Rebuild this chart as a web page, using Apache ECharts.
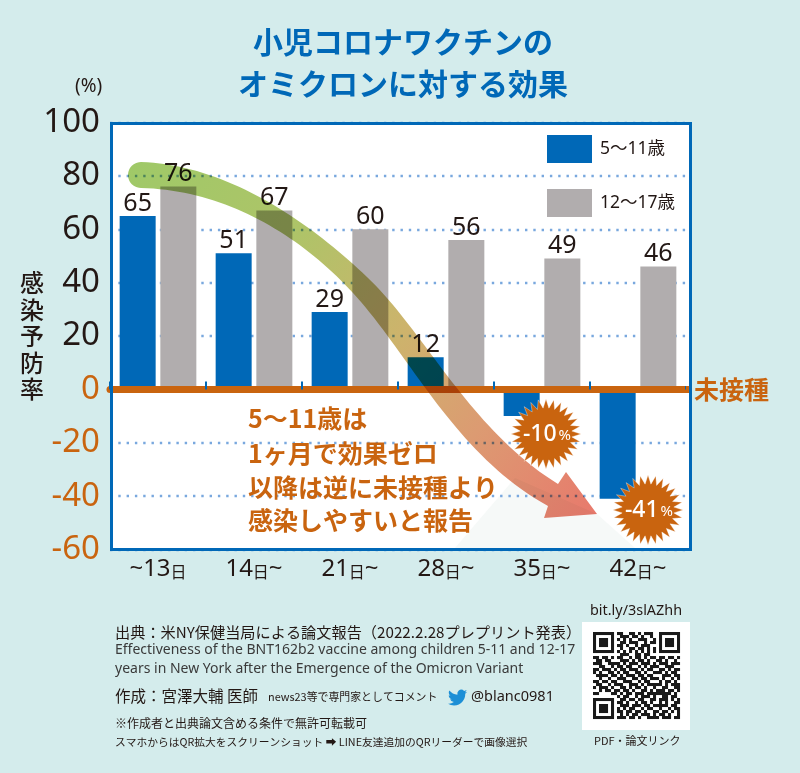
<!DOCTYPE html>
<html><head><meta charset="utf-8">
<style>html,body{margin:0;padding:0;background:#d4ecec}#c{width:800px;height:773px}</style>
<script src="https://cdn.jsdelivr.net/npm/echarts@6/dist/echarts.min.js"></script>
</head><body><div id="c"></div>
<script>
const categories = ['~13日','14日~','21日~','28日~','35日~','42日~'];
const child = [65,51,29,12,-10,-41];
const teen = [76,67,60,56,49,46];
const seriesNames = ['5〜11歳','12〜17歳'];
const titleLines = '小児コロナワクチンの\nオミクロンに対する効果';
const noteLines = ['5〜11歳は','1ヶ月で効果ゼロ','以降は逆に未接種より','感染しやすいと報告'];
const qrRows = [
'11111110110011010111001111111',
'10000010011101101001001000001',
'10111010101010011100101011101',
'10111010011011100101101011101',
'10111010110100101110001011101',
'10000010010011011010101000001',
'11111110101010101010101111111',
'00000000011100110110000000000',
'11011010110010110101101101101',
'01101100011101011010011010010',
'11100111101011101110101110111',
'00110010110110010101110011100',
'11011101011011101011001101011',
'10100110101100110100111010110',
'01111011010111011011000111011',
'00100100111001101101110100101',
'11011011001110010110001011010',
'01100101110011101011111010111',
'10111010011010110100100110011',
'00101101101101001101011101101',
'11000011010110111011111111010',
'00000000101100101110100110110',
'11111110011011011001101110101',
'10000010110100101101001010011',
'10111010011101110110111110110',
'10111010101011001011001001011',
'10111010110110110100110110101',
'10000010010101101110101101001',
'11111110111011010011110111011'];

const BLUE='#0068b7', GREY='#b1adae', ORANGE='#c9640f', INK='#231815', BG='#d4ecec';
const SANS='"Noto Sans","Noto Sans CJK JP",sans-serif', CJK='"Noto Sans CJK JP",sans-serif';

echarts.graphic.registerShape('bird',echarts.graphic.extendPath('M23.953 4.57a10 10 0 0 1-2.825.775 4.958 4.958 0 0 0 2.163-2.723c-.951.555-2.005.959-3.127 1.184a4.92 4.92 0 0 0-8.384 4.482C7.69 8.095 4.067 6.13 1.64 3.162a4.822 4.822 0 0 0-.666 2.475c0 1.71.87 3.213 2.188 4.096a4.904 4.904 0 0 1-2.228-.616v.06a4.923 4.923 0 0 0 3.946 4.827 4.996 4.996 0 0 1-2.212.085 4.936 4.936 0 0 0 4.604 3.417 9.867 9.867 0 0 1-6.102 2.105c-.39 0-.779-.023-1.17-.067a13.995 13.995 0 0 0 7.557 2.209c9.053 0 13.998-7.496 13.998-13.985 0-.21 0-.42-.015-.63A9.935 9.935 0 0 0 24 4.59z',{}));

function bez(p0,p1,p2,p3,n){const a=[];for(let i=0;i<=n;i++){const t=i/n,u=1-t;
 a.push([u*u*u*p0[0]+3*u*u*t*p1[0]+3*u*t*t*p2[0]+t*t*t*p3[0],u*u*u*p0[1]+3*u*u*t*p1[1]+3*u*t*t*p2[1]+t*t*t*p3[1]]);}return a;}
function arrowPoints(){
 const up=[...bez([141,162],[225,165],[305,218],[367,277],40),...bez([367,277],[425,332],[470,430],[558,484],40)];
 const lo=[...bez([548,506],[455,455],[410,355],[353,293],40),...bez([353,293],[300,235],[225,190],[141,188],40)];
 const cap=[];for(let i=1;i<20;i++){const a=Math.PI/2+i/20*Math.PI;cap.push([141+13*Math.cos(a),175+13*Math.sin(a)]);}
 return [...up,[566,472],[597,514],[544,518],...lo,...cap];
}
function star(cx,cy,R,r,n){const a=[];for(let i=0;i<n*2;i++){const t=i/n*Math.PI,d=i%2?r:R;a.push([cx+d*Math.cos(t),cy+d*Math.sin(t)]);}return a;}
function txt(x,y,text,size,opt={}){return {type:'text',z:50,x,y,style:Object.assign({text,fill:INK,font:`${opt.w||400} ${size}px ${opt.f||CJK}`,textVerticalAlign:'middle',textAlign:'left'},opt.s||{})};}
function badge(cx,cy,val){return [
 {type:'polygon',z:40,shape:{points:star(cx,cy,35,26,28)},style:{fill:ORANGE,stroke:'rgba(255,255,255,.35)',lineWidth:1}},
 {type:'text',z:41,x:cx+1,y:cy,style:{rich:{a:{font:`500 23px ${SANS}`,fill:'#fff'},b:{font:`400 15px ${SANS}`,fill:'#fff',padding:[3,0,0,2]}},text:`{a|${val}}{b|%}`,align:'center',verticalAlign:'middle'}}
];}
const qrCells=[];qrRows.forEach((row,j)=>{for(let i=0;i<29;i++)if(row[i]==='1')qrCells.push({type:'rect',z:31,shape:{x:593+i*3,y:632+j*3,width:3.05,height:3.05},style:{fill:'#1a1a1a'}});});

const chart=echarts.init(document.getElementById('c'),null,{renderer:'canvas'});
chart.setOption({
 animation:false,backgroundColor:BG,
 grid:{left:110,width:576,top:122.5,height:427,containLabel:false},
 legend:{orient:'vertical',left:547,top:135,padding:0,icon:'rect',itemWidth:45,itemHeight:28,itemGap:26,itemStyle:{borderWidth:0},
  textStyle:{fontSize:17.5,fontFamily:SANS,color:INK,padding:[0,0,0,3]},data:seriesNames},
 xAxis:[
  {type:'category',data:categories,position:'bottom',axisLine:{show:false,onZero:false},axisTick:{show:false},
   axisLabel:{interval:0,margin:8,formatter:v=>v.replace(/(\d+)/,'{n|$1}').replace('日','{d|日}').replace('~','{t|~}'),
    rich:{n:{fontSize:24,fontFamily:SANS,color:INK},d:{fontSize:16,fontFamily:CJK,color:INK,padding:[4,0,0,0]},t:{fontSize:24,fontFamily:SANS,color:INK}}}},
  {type:'category',data:categories,axisLine:{show:true,onZero:true,lineStyle:{color:ORANGE,width:7}},
   axisTick:{show:true,length:8,inside:false,lineStyle:{color:BLUE,width:2}},axisLabel:{show:false},z:5}
 ],
 yAxis:{type:'value',min:-60,max:100,interval:20,axisLine:{show:false},axisTick:{show:false},
  name:'感\n染\n予\n防\n率',nameLocation:'middle',nameRotate:0,nameGap:66,nameMoveOverlap:false,nameTextStyle:{fontSize:24,fontWeight:500,lineHeight:26.5,color:INK,fontFamily:CJK},
  axisLabel:{margin:10,fontSize:33,fontFamily:SANS,color:v=>v<=0?ORANGE:INK},
  splitLine:{show:true,lineStyle:{color:'#79a8de',width:2.4,type:[2.4,5.9]}}},
 series:[
  {name:seriesNames[0],type:'bar',data:child,barWidth:36,barGap:'13%',itemStyle:{color:BLUE},
   label:{show:true,position:'top',distance:0,fontSize:25,fontFamily:SANS,color:INK,formatter:p=>p.value>0?p.value:''}},
  {name:seriesNames[1],type:'bar',data:teen,barWidth:36,itemStyle:{color:GREY},
   label:{show:true,position:'top',distance:0,fontSize:25,fontFamily:SANS,color:INK}}
 ],
 graphic:{elements:[
  {type:'rect',z:-10,shape:{x:110,y:122,width:581,height:428},style:{fill:'#fff'}},
  {type:'polygon',z:-9,shape:{points:[[455,548],[515,478],[597,514],[635,548]]},style:{fill:'#f6f9f8'}},
  {type:'rect',z:10,shape:{x:684.5,y:378,width:3,height:8},style:{fill:'#fff'}},
  {type:'rect',z:10,shape:{x:686,y:386,width:4,height:7},style:{fill:ORANGE}},
  {type:'polygon',z:20,shape:{points:arrowPoints()},style:{blend:'multiply',fill:{type:'linear',global:true,x:128,y:162,x2:597,y2:514,colorStops:[
    {offset:0,color:'#9fc968'},{offset:.3,color:'#aec468'},{offset:.55,color:'#cdb36c'},{offset:.75,color:'#dc9b72'},{offset:1,color:'#e8796c'}]}}},
  {type:'rect',z:30,shape:{x:111.5,y:123.5,width:579,height:426},style:{fill:'none',stroke:BLUE,lineWidth:3}},
  ...badge(546,434,child[4]),...badge(648,510,child[5]),
  {type:'text',z:50,x:403,y:63,style:{text:titleLines,align:'center',verticalAlign:'middle',font:`700 30px ${CJK}`,lineHeight:42,fill:BLUE}},
  txt(75,87,'(%)',19,{f:SANS}),
  txt(694,389,'未接種',25,{w:700,s:{fill:ORANGE}}),
  ...noteLines.map((t,i)=>txt(248,[418,453,487,520][i],t,25,{w:700,s:{fill:ORANGE}})),
  txt(115,632,'出典：米NY保健当局による論文報告（2022.2.28プレプリント発表）',15.2),
  txt(115,650,'Effectiveness of the BNT162b2 vaccine among children 5-11 and 12-17',14,{f:SANS,s:{fill:'#3a3a3a'}}),
  txt(115,669,'years in New York after the Emergence of the Omicron Variant',14,{f:SANS,s:{fill:'#3a3a3a'}}),
  txt(115,696,'作成：宮澤大輔 医師',15.5),
  txt(268,697,'news23等で専門家としてコメント',10.9),
  {type:'bird',z:50,x:448,y:688,scaleX:.8,scaleY:.8,style:{fill:'#1d8fd6'}},
  txt(471,697,'@blanc0981',14.5,{f:SANS}),
  txt(115,723,'※作成者と出典論文含める条件で無許可転載可',12),
  txt(115,742,'スマホからはQR拡大をスクリーンショット ➡ LINE友達追加のQRリーダーで画像選択',10.75),
  txt(590,611,'bit.ly/3slAZhh',14.4,{f:SANS}),
  {type:'rect',z:30,shape:{x:582,y:622,width:108,height:108},style:{fill:'#fff'}},
  ...qrCells,
  txt(594,741,'PDF・論文リンク',11)
 ]}
});
</script></body></html>
